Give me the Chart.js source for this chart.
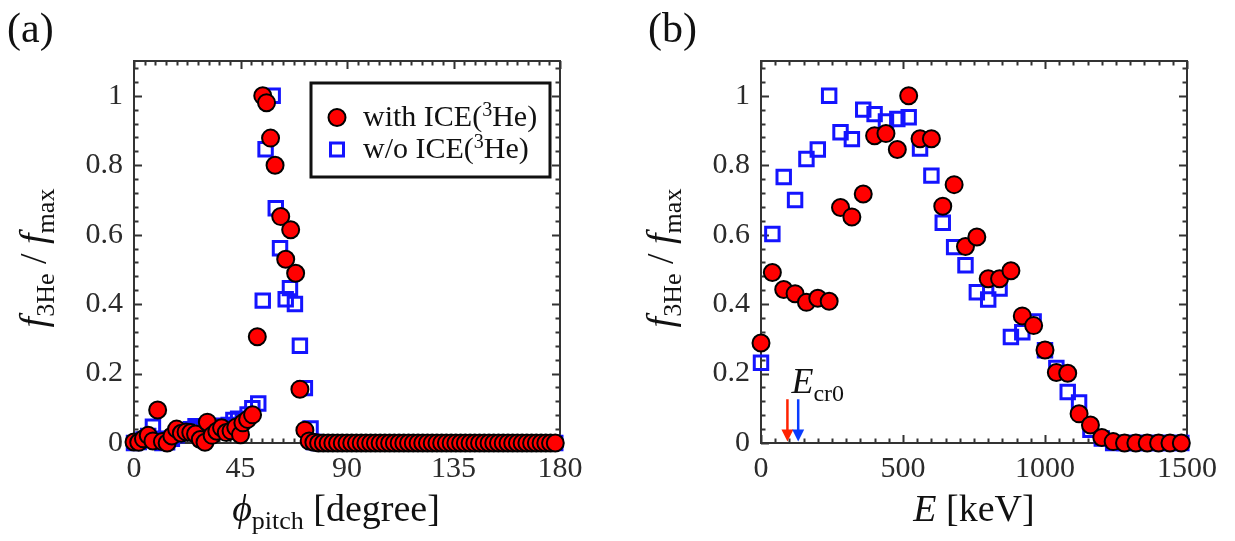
<!DOCTYPE html>
<html>
<head>
<meta charset="utf-8">
<script src="https://cdn.jsdelivr.net/npm/chart.js@4.4.0/dist/chart.umd.min.js"></script>
<style>
  body { margin: 0; background: #fff; }
  #wrap { position: relative; width: 1235px; height: 541px; }
  #wrap canvas { position: absolute; top: 0; }
</style>
</head>
<body>
<div id="wrap">
  <canvas id="pitchChart" width="617" height="541" style="left:0"></canvas>
  <canvas id="energyChart" width="618" height="541" style="left:617px"></canvas>
</div>
<script>
// ---- (a) pitch-angle distribution ----
const pitchWith = [0, 2, 4, 6, 8, 10, 12, 14, 16, 18, 20, 22, 24, 26, 28, 30, 31, 33, 35, 37, 39, 41, 43, 45, 46, 48,
  50.1, 52.1, 54.4, 56.0, 57.7, 59.6, 62.0, 64.1, 66.2, 68.3, 70.1, 72.2, 74, 76, 78, 80, 82, 84, 86, 88, 90,
  92, 94, 96, 98, 100, 102, 104, 106, 108, 110, 112, 114, 116, 118, 120, 122, 124, 126, 128, 130, 132, 134,
  136, 138, 140, 142, 144, 146, 148, 150, 152, 154, 156, 158, 160, 162, 164, 166, 168, 170, 172, 174, 176, 178, 180];
const fWith = [0.003, 0.002, 0.012, 0.022, 0.006, 0.095, 0.004, 0, 0.02, 0.04, 0.028, 0.032, 0.03, 0.026, 0.01, 0.002, 0.06, 0.022, 0.034, 0.044, 0.03, 0.035, 0.045, 0.024, 0.058, 0.068,
  0.081, 0.306, 1.0, 0.98, 0.878, 0.80, 0.652, 0.529, 0.614, 0.489, 0.155, 0.037, 0.006, 0.002, 0, 0, 0, 0, 0, 0, 0,
  0, 0, 0, 0, 0, 0, 0, 0, 0, 0, 0, 0, 0, 0, 0, 0, 0, 0, 0, 0, 0, 0,
  0, 0, 0, 0, 0, 0, 0, 0, 0, 0, 0, 0, 0, 0, 0, 0, 0, 0, 0, 0, 0, 0];

const pitchWithout = [0, 2, 4, 6, 8, 10, 12, 14, 16, 18, 20, 22, 24, 26, 28, 30, 32, 34, 36, 38, 40, 42, 44, 46, 48, 50,
  52.5, 54.4, 55.6, 58.6, 59.9, 61.7, 64.1, 65.9, 68.0, 70.1, 72.2, 74.6, 76, 78, 80, 82, 84, 86, 88, 90,
  92, 94, 96, 98, 100, 102, 104, 106, 108, 110, 112, 114, 116, 118, 120, 122, 124, 126, 128, 130, 132, 134,
  136, 138, 140, 142, 144, 146, 148, 150, 152, 154, 156, 158, 160, 162, 164, 166, 168, 170, 172, 174, 176, 178, 180];
const fWithout = [0, 0.003, 0.01, 0.02, 0.047, 0.012, 0, 0.002, 0.012, 0.022, 0.03, 0.036, 0.04, 0.048, 0.04, 0.032, 0.036, 0.042, 0.05, 0.046, 0.052, 0.066, 0.07, 0.066, 0.082, 0.1,
  0.114, 0.41, 0.846, 1.0, 0.676, 0.561, 0.414, 0.446, 0.40, 0.28, 0.158, 0.042, 0.003, 0, 0, 0, 0, 0, 0, 0,
  0, 0, 0, 0, 0, 0, 0, 0, 0, 0, 0, 0, 0, 0, 0, 0, 0, 0, 0, 0, 0, 0,
  0, 0, 0, 0, 0, 0, 0, 0, 0, 0, 0, 0, 0, 0, 0, 0, 0, 0, 0, 0, 0, 0];

// ---- (b) energy distribution ----
const energy = [0, 40, 80, 120, 160, 200, 240, 280, 320, 360, 400, 440, 480, 520, 560, 600, 640, 680, 720, 760,
  800, 840, 880, 920, 960, 1000, 1040, 1080, 1120, 1160, 1200, 1240, 1280, 1320, 1360, 1400, 1440, 1480];
const eWith = [0.288, 0.491, 0.442, 0.430, 0.405, 0.417, 0.408, 0.678, 0.651, 0.717, 0.885, 0.891, 0.845, 1.0, 0.876, 0.876, 0.682, 0.744, 0.566, 0.593,
  0.473, 0.473, 0.496, 0.366, 0.338, 0.268, 0.203, 0.201, 0.084, 0.052, 0.016, 0.004, 0, 0, 0, 0, 0, 0];
const eWithout = [0.231, 0.602, 0.766, 0.70, 0.818, 0.845, 1.0, 0.895, 0.875, 0.96, 0.947, 0.926, 0.933, 0.938, 0.848, 0.77, 0.634, 0.564, 0.512, 0.434,
  0.413, 0.445, 0.305, 0.319, 0.35, 0.267, 0.216, 0.147, 0.117, 0.038, 0.013, 0, 0, 0, 0, 0, 0, 0];

// critical energy markers [keV]
const ecr0With = 93;
const ecr0Without = 131;

const pitchTicks = [0, 45, 90, 135, 180];
const energyTicks = [0, 500, 1000, 1500];
const fTicks = [0, 0.2, 0.4, 0.6, 0.8, 1];

const SERIF = '"Liberation Serif", "Times New Roman", serif';
const INK = '#2b2b2b';
const RED = '#ff0000';
const BLUE = '#1414ff';

const toXY = (xs, ys) => xs.map((x, i) => ({ x: x, y: ys[i] }));

// draws a list of text runs (plain / italic / subscript / superscript) starting at x
function drawRuns(ctx, runs, x, y, size) {
    runs.forEach(r => {
        const s = r.sub || r.sup ? Math.round(size * 0.68) : size;
        ctx.font = (r.italic ? 'italic ' : '') + s + 'px ' + SERIF;
        const dy = r.sub ? size * 0.22 : r.sup ? -size * 0.32 : 0;
        ctx.fillText(r.t, x, y + dy);
        x += ctx.measureText(r.t).width;
    });
    return x;
}

function runsWidth(ctx, runs, size) {
    let w = 0;
    runs.forEach(r => {
        const s = r.sub || r.sup ? Math.round(size * 0.68) : size;
        ctx.font = (r.italic ? 'italic ' : '') + s + 'px ' + SERIF;
        w += ctx.measureText(r.t).width;
    });
    return w;
}

const yTitleRuns = [
    { t: 'f', italic: true }, { t: '3He', sub: true }, { t: ' / ' },
    { t: 'f', italic: true }, { t: 'max', sub: true }
];

// Frame with inward major/minor ticks on all four sides
const frameTicks = {
    id: 'frameTicks',
    beforeDatasetsDraw(chart, args, opts) {
        const { ctx, chartArea: a, scales: { x, y } } = chart;
        ctx.save();
        ctx.strokeStyle = '#333';
        ctx.lineWidth = 2;
        ctx.beginPath();
        for (let v = x.min; v <= x.max + 1e-6; v += opts.xMinor) {
            const px = Math.round(x.getPixelForValue(v)) + 0.5;
            const major = opts.xMajor.some(m => Math.abs(m - v) < 1e-6);
            const len = major ? 8 : 4.5;
            ctx.moveTo(px, a.bottom); ctx.lineTo(px, a.bottom - len);
            ctx.moveTo(px, a.top); ctx.lineTo(px, a.top + len);
        }
        for (let v = y.min; v <= y.max + 1e-6; v += opts.yMinor) {
            const py = Math.round(y.getPixelForValue(v)) + 0.5;
            const major = fTicks.some(m => Math.abs(m - v) < 1e-6);
            const len = major ? 8 : 4.5;
            ctx.moveTo(a.left, py); ctx.lineTo(a.left + len, py);
            ctx.moveTo(a.right, py); ctx.lineTo(a.right - len, py);
        }
        ctx.stroke();
        ctx.strokeRect(a.left, a.top, a.width, a.height);
        ctx.restore();
    },
    afterDraw(chart, args, opts) {
        const { ctx, chartArea: a } = chart;
        ctx.save();
        ctx.fillStyle = '#111';
        ctx.textBaseline = 'alphabetic';
        // panel tag
        ctx.font = '42px ' + SERIF;
        ctx.fillText(opts.tag, opts.tagX, 42);
        // x title
        const xw = runsWidth(ctx, opts.xTitle, 38);
        drawRuns(ctx, opts.xTitle, opts.xTitleCenter - xw / 2, 521, 38);
        // y title, rotated
        ctx.translate(a.left - 88, (a.top + a.bottom) / 2 + 6);
        ctx.rotate(-Math.PI / 2);
        const yw = runsWidth(ctx, yTitleRuns, 38);
        drawRuns(ctx, yTitleRuns, -yw / 2, 0, 38);
        ctx.restore();
    }
};

// Boxed legend inside panel (a)
const boxLegend = {
    id: 'boxLegend',
    afterDraw(chart) {
        const ctx = chart.ctx;
        ctx.save();
        ctx.fillStyle = '#fff';
        ctx.fillRect(311, 83, 239, 94);
        ctx.strokeStyle = '#111';
        ctx.lineWidth = 3;
        ctx.strokeRect(311, 83, 239, 94);
        // markers
        ctx.beginPath();
        ctx.arc(337, 117.5, 8.5, 0, Math.PI * 2);
        ctx.fillStyle = RED; ctx.fill();
        ctx.lineWidth = 2; ctx.strokeStyle = '#000'; ctx.stroke();
        ctx.strokeStyle = BLUE; ctx.lineWidth = 3;
        ctx.strokeRect(330.5, 143, 13, 13);
        ctx.fillStyle = '#111';
        drawRuns(ctx, [{ t: 'with ICE(' }, { t: '3', sup: true }, { t: 'He)' }], 363, 126, 30);
        drawRuns(ctx, [{ t: 'w/o ICE(' }, { t: '3', sup: true }, { t: 'He)' }], 363, 158, 30);
        ctx.restore();
    }
};

// Critical-energy arrows in panel (b)
const ecrArrows = {
    id: 'ecrArrows',
    afterDatasetsDraw(chart) {
        const { ctx, scales: { x, y } } = chart;
        const top = y.getPixelForValue(0.126), tip = y.getPixelForValue(0.004);
        ctx.save();
        [[ecr0With, '#ff2200'], [ecr0Without, '#0a3cff']].forEach(([e, col]) => {
            const px = x.getPixelForValue(e);
            ctx.strokeStyle = col; ctx.fillStyle = col; ctx.lineWidth = 2.5;
            ctx.beginPath(); ctx.moveTo(px, top); ctx.lineTo(px, tip - 10); ctx.stroke();
            ctx.beginPath();
            ctx.moveTo(px - 6, tip - 12); ctx.lineTo(px + 6, tip - 12); ctx.lineTo(px, tip); ctx.closePath();
            ctx.fill();
        });
        ctx.fillStyle = '#111';
        drawRuns(ctx, [{ t: 'E', italic: true }, { t: 'cr0', sub: true }],
            x.getPixelForValue(ecr0With) + 4, 393, 36);
        ctx.restore();
    }
};

function seriesSets(xw, yw, xo, yo) {
    return [{
        label: 'with ICE(3He)',
        data: toXY(xw, yw),
        pointStyle: 'circle',
        pointRadius: 8.5,
        pointBackgroundColor: RED,
        pointBorderColor: '#000',
        pointBorderWidth: 2,
        clip: false
    }, {
        label: 'w/o ICE(3He)',
        data: toXY(xo, yo),
        pointStyle: 'rect',
        pointRadius: 9.5,
        pointBackgroundColor: 'rgba(0,0,0,0)',
        pointBorderColor: BLUE,
        pointBorderWidth: 3,
        clip: false
    }];
}

function axisOptions(xmax, xTicks, yAxisWidth) {
    const tickFont = { family: SERIF, size: 30 };
    return {
        x: {
            type: 'linear', min: 0, max: xmax,
            grid: { display: false, drawTicks: false }, border: { display: false },
            afterBuildTicks: s => { s.ticks = xTicks.map(v => ({ value: v })); },
            afterFit: s => { s.height = 98; },
            ticks: { color: INK, font: tickFont, padding: 8, maxRotation: 0, callback: v => String(v) }
        },
        y: {
            type: 'linear', min: 0, max: 1.1,
            grid: { display: false, drawTicks: false }, border: { display: false },
            afterBuildTicks: s => { s.ticks = fTicks.map(v => ({ value: v })); },
            afterFit: s => { s.width = yAxisWidth; },
            ticks: { color: INK, font: tickFont, padding: 11, callback: v => String(v) }
        }
    };
}

const common = {
    responsive: false,
    animation: false,
    events: [],
    plugins: { legend: { display: false }, tooltip: { enabled: false } }
};

new Chart(document.getElementById('pitchChart'), {
    type: 'scatter',
    data: { datasets: seriesSets(pitchWith, fWith, pitchWithout, fWithout) },
    options: Object.assign({}, common, {
        layout: { padding: { left: 0, right: 57, top: 61, bottom: 0 } },
        scales: axisOptions(180, pitchTicks, 134),
        plugins: Object.assign({}, common.plugins, {
            frameTicks: {
                xMinor: 4.5, xMajor: pitchTicks, yMinor: 0.04, tag: '(a)', tagX: 7,
                xTitleCenter: 336,
                xTitle: [{ t: '\u03d5', italic: true }, { t: 'pitch', sub: true }, { t: ' [degree]' }]
            }
        })
    }),
    plugins: [frameTicks, boxLegend]
});

new Chart(document.getElementById('energyChart'), {
    type: 'scatter',
    data: { datasets: seriesSets(energy, eWith, energy, eWithout) },
    options: Object.assign({}, common, {
        layout: { padding: { left: 0, right: 48, top: 61, bottom: 0 } },
        scales: axisOptions(1500, energyTicks, 144),
        plugins: Object.assign({}, common.plugins, {
            frameTicks: {
                xMinor: 50, xMajor: energyTicks, yMinor: 0.04, tag: '(b)', tagX: 31,
                xTitleCenter: 357,
                xTitle: [{ t: 'E', italic: true }, { t: ' [keV]' }]
            }
        })
    }),
    plugins: [frameTicks, ecrArrows]
});
</script>
</body>
</html>
